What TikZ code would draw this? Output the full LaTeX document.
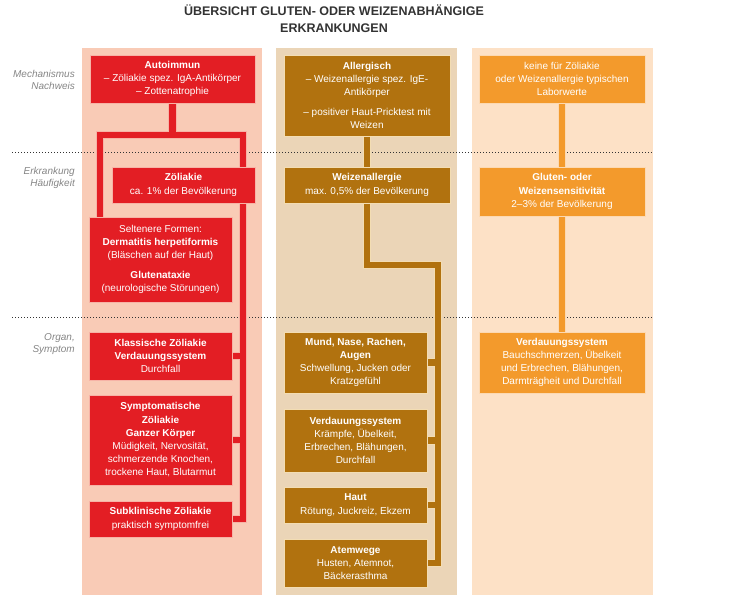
\documentclass[tikz,border=0pt]{standalone}
\usepackage{fontspec}
\setmainfont{Liberation Sans}
\usetikzlibrary{
  positioning,
  backgrounds,
  calc
}
\definecolor{zred}{HTML}{E31E24}
\definecolor{zredlight}{HTML}{F7B3A6}
\definecolor{leftbg}{HTML}{F9CBB6}
\definecolor{zbrown}{HTML}{B1720F}
\definecolor{zbrownlight}{HTML}{F3DDB3}
\definecolor{midbg}{HTML}{EBD5B7}
\definecolor{zorange}{HTML}{F39A2C}
\definecolor{zorangelight}{HTML}{FCD9B2}
\definecolor{rightbg}{HTML}{FDE1C6}
\definecolor{titlegray}{HTML}{333333}
\definecolor{rowgray}{HTML}{858585}

\begin{document}
\begin{tikzpicture}[
  x=1pt, y=-1pt,
  zbox/.style={
    rectangle, line width=0.8pt, inner sep=0pt,
    text=white, align=center,
    font=\fontsize{10}{13.2}\selectfont
  },
  redbox/.style={zbox, fill=zred, draw=zredlight},
  brownbox/.style={zbox, fill=zbrown, draw=zbrownlight},
  orangebox/.style={zbox, fill=zorange, draw=zorangelight},
  redlink/.style={draw=zred, line width=6.5pt,
    preaction={draw=zredlight, line width=8.5pt}},
  brownlink/.style={draw=zbrown, line width=6.5pt,
    preaction={draw=zbrownlight, line width=8.5pt}},
  orangelink/.style={draw=zorange, line width=6.5pt,
    preaction={draw=zorangelight, line width=8.5pt}},
  rowlabel/.style={font=\fontsize{10}{11.5}\selectfont\itshape,
    text=rowgray, align=right, anchor=east, inner sep=0pt}
]
\useasboundingbox (0,0) rectangle (739,600);

% TITLE
\node[font=\fontsize{12.5}{17}\selectfont\bfseries, text=titlegray, align=center]
  (title) at (334, 18.5) {ÜBERSICHT GLUTEN- ODER WEIZENABHÄNGIGE\\ERKRANKUNGEN};

% COLUMN BACKGROUNDS
\begin{scope}[on background layer]
\fill[leftbg] (82, 48) rectangle (262, 595);
\fill[midbg] (276, 48) rectangle (457, 595);
\fill[rightbg] (472, 48) rectangle (653, 595);
\draw[dotted, line width=1pt, titlegray] (12, 152) -- (653, 152);
\draw[dotted, line width=1pt, titlegray] (12, 317) -- (653, 317);
\end{scope}

% ROW LABELS
\node[rowlabel] (rowmech) at (75, 80) {Mechanismus\\Nachweis};
\node[rowlabel] (rowerkr) at (75, 178) {Erkrankung\\Häufigkeit};
\node[rowlabel] (rowsymp) at (75, 344) {Organ,\\Symptom};

% ZOELIAKIE (LEFT)
\node[redbox, minimum width=165pt, minimum height=48pt] (autoimmun) at (172.5, 79)
  {\textbf{Autoimmun}\\– Zöliakie spez. IgA-Antikörper\\– Zottenatrophie};
\node[redbox, minimum width=143pt, minimum height=36pt] (zoeliakie) at (183.5, 185)
  {\textbf{Zöliakie}\\ca. 1\% der Bevölkerung};
\node[redbox, minimum width=143pt, minimum height=85pt] (seltenere) at (160.5, 259.5)
  {Seltenere Formen:\\\textbf{Dermatitis herpetiformis}\\(Bläschen auf der Haut)\\[6.5pt]
   \textbf{Glutenataxie}\\(neurologische Störungen)};
\node[redbox, minimum width=143pt, minimum height=48pt] (klassisch) at (160.5, 356)
  {\textbf{Klassische Zöliakie}\\\textbf{Verdauungssystem}\\Durchfall};
\node[redbox, minimum width=143pt, minimum height=90pt] (symptomatisch) at (160.5, 440)
  {\textbf{Symptomatische}\\\textbf{Zöliakie}\\\textbf{Ganzer Körper}\\Müdigkeit, Nervosität,\\
   schmerzende Knochen,\\trockene Haut, Blutarmut};
\node[redbox, minimum width=143pt, minimum height=36pt] (subklinisch) at (160.5, 519)
  {\textbf{Subklinische Zöliakie}\\praktisch symptomfrei};

% WEIZENALLERGIE (MIDDLE)
\node[brownbox, minimum width=166pt, minimum height=81pt] (allergisch) at (367, 95.5)
  {\textbf{Allergisch}\\– Weizenallergie spez. IgE-\\Antikörper\\[6.5pt]
   – positiver Haut-Pricktest mit\\Weizen};
\node[brownbox, minimum width=166pt, minimum height=36pt] (weizenallergie) at (367, 185)
  {\textbf{Weizenallergie}\\max. 0,5\% der Bevölkerung};
\node[brownbox, minimum width=143pt, minimum height=61pt] (mund) at (355.5, 362.5)
  {\textbf{Mund, Nase, Rachen,}\\\textbf{Augen}\\Schwellung, Jucken oder\\Kratzgefühl};
\node[brownbox, minimum width=143pt, minimum height=63pt] (mverdau) at (355.5, 440.5)
  {\textbf{Verdauungssystem}\\Krämpfe, Übelkeit,\\Erbrechen, Blähungen,\\Durchfall};
\node[brownbox, minimum width=143pt, minimum height=36pt] (haut) at (355.5, 505)
  {\textbf{Haut}\\Rötung, Juckreiz, Ekzem};
\node[brownbox, minimum width=143pt, minimum height=48pt] (atemwege) at (355.5, 563)
  {\textbf{Atemwege}\\Husten, Atemnot,\\Bäckerasthma};

% SENSITIVITAET (RIGHT)
\node[orangebox, minimum width=166pt, minimum height=48pt] (keine) at (562, 79)
  {keine für Zöliakie\\oder Weizenallergie typischen\\Laborwerte};
\node[orangebox, minimum width=166pt, minimum height=49pt] (sensitiv) at (562, 191.5)
  {\textbf{Gluten- oder}\\\textbf{Weizensensitivität}\\2–3\% der Bevölkerung};
\node[orangebox, minimum width=166pt, minimum height=61pt] (rverdau) at (562, 362.5)
  {\textbf{Verdauungssystem}\\Bauchschmerzen, Übelkeit\\und Erbrechen, Blähungen,\\
   Darmträgheit und Durchfall};

% CONNECTORS
\coordinate (lbarL) at (100, 135);
\coordinate (lbarR) at (243, 135);
\coordinate (mstep) at (438, 265);
\begin{scope}[on background layer]
\draw[redlink]
  (autoimmun.south) -- (autoimmun.south |- lbarL)
  (lbarL |- seltenere.north) -- (lbarL) -- (lbarR) -- (lbarR |- subklinisch.east) -- (subklinisch.east)
  (lbarR |- klassisch.east) -- (klassisch.east)
  (lbarR |- symptomatisch.east) -- (symptomatisch.east);
\draw[brownlink]
  (allergisch.south) -- (weizenallergie.north)
  (weizenallergie.south) |- (mstep) -- (mstep |- atemwege.east) -- (atemwege.east)
  (mstep |- mund.east) -- (mund.east)
  (mstep |- mverdau.east) -- (mverdau.east)
  (mstep |- haut.east) -- (haut.east);
\draw[orangelink]
  (keine.south) -- (sensitiv.north)
  (sensitiv.south) -- (rverdau.north);
\end{scope}

\end{tikzpicture}
\end{document}
